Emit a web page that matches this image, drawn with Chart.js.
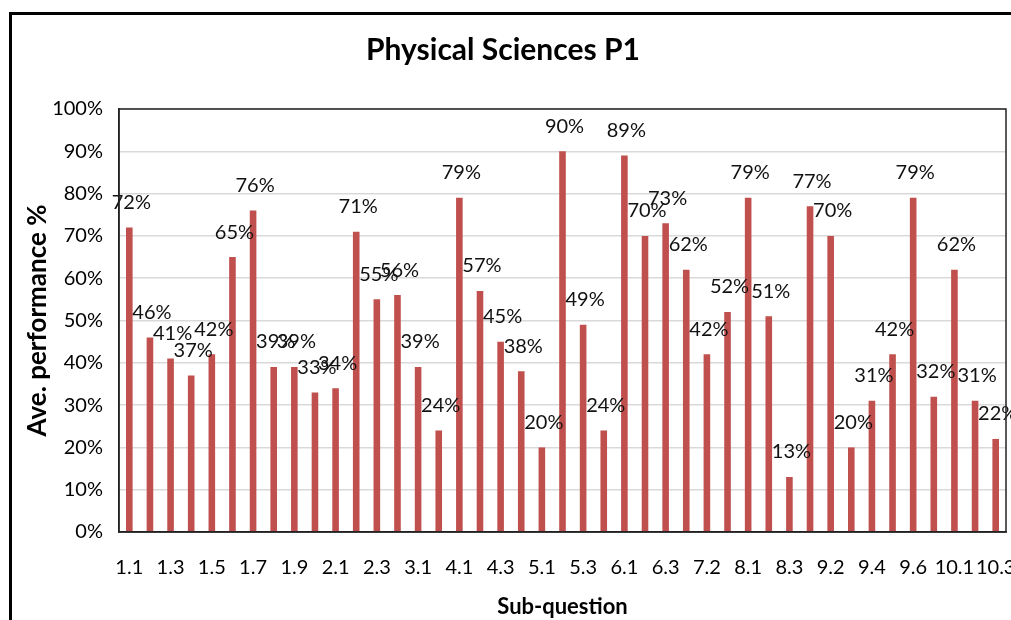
<!DOCTYPE html>
<html lang="en">
<head>
  <meta charset="UTF-8">
  <title>Physical Sciences P1</title>
  <style>
    body { margin: 0; background: #fff; overflow: hidden; }
    .frame { position: absolute; left: 9px; top: 12px; width: 1100px; height: 700px; border: 3px solid #000; }
    .wrap { position: absolute; left: 0; top: 0; width: 1011px; height: 620px; }
  </style>
</head>
<body>
  <div class="frame"></div>
  <div class="wrap"><canvas id="barChart"></canvas></div>

  <script src="https://cdn.jsdelivr.net/npm/chart.js"></script>
  <script>
    const subQuestions = [
      "1.1", "1.2", "1.3", "1.4", "1.5", "1.6", "1.7", "1.8", "1.9", "1.10",
      "2.1", "2.2", "2.3", "2.4", "3.1", "3.2", "4.1", "4.2", "4.3", "4.4",
      "5.1", "5.2", "5.3", "5.4", "6.1", "6.2", "6.3", "7.1", "7.2", "7.3",
      "8.1", "8.2", "8.3", "9.1", "9.2", "9.3", "9.4", "9.5", "9.6", "9.7",
      "10.1", "10.2", "10.3"
    ];
    const performance = [
      72, 46, 41, 37, 42, 65, 76, 39, 39, 33,
      34, 71, 55, 56, 39, 24, 79, 57, 45, 38,
      20, 90, 49, 24, 89, 70, 73, 62, 42, 52,
      79, 51, 13, 77, 70, 20, 31, 42, 79, 32,
      62, 31, 22
    ];
    const yTicks = [0, 10, 20, 30, 40, 50, 60, 70, 80, 90, 100];

    const face = "Lato, 'Liberation Sans', sans-serif";

    // value labels above each bar
    const valueLabels = {
      id: "valueLabels",
      afterDatasetsDraw(chart) {
        const ctx = chart.ctx;
        const bars = chart.getDatasetMeta(0).data;
        ctx.save();
        ctx.font = "20px " + face;
        ctx.fillStyle = "#111";
        ctx.textAlign = "center";
        ctx.textBaseline = "bottom";
        bars.forEach((bar, i) => {
          ctx.fillText(performance[i] + "%", bar.x + 2, bar.y - 15);
        });
        ctx.restore();
      }
    };

    // box round the plot area
    const plotBox = {
      id: "plotBox",
      afterDraw(chart) {
        const a = chart.chartArea;
        const ctx = chart.ctx;
        ctx.save();
        ctx.strokeStyle = "#222";
        ctx.lineWidth = 1.5;
        ctx.strokeRect(a.left, a.top, a.right - a.left, a.bottom - a.top);
        ctx.restore();
      }
    };

    new Chart(document.getElementById("barChart"), {
      type: "bar",
      data: {
        labels: subQuestions,
        datasets: [{
          label: "Ave. performance %",
          data: performance,
          backgroundColor: "#C0504D",
          barPercentage: 0.32,
          categoryPercentage: 1
        }]
      },
      options: {
        responsive: true,
        maintainAspectRatio: false,
        animation: false,
        layout: { padding: { left: 0, right: 5, top: 0, bottom: 0 } },
        plugins: {
          legend: { display: false },
          tooltip: { enabled: false },
          title: {
            display: true,
            text: "Physical Sciences P1",
            color: "#000",
            font: { family: face, size: 30, weight: "bold", lineHeight: 1.2 },
            padding: { top: 32, bottom: 41 }
          }
        },
        scales: {
          x: {
            grid: { display: false, drawTicks: false },
            border: { color: "#222", width: 1.5 },
            ticks: {
              autoSkip: false,
              maxRotation: 0,
              padding: 24,
              color: "#000",
              font: { family: face, size: 20 },
              callback: (v, i) => (i % 2 === 0 ? subQuestions[i] : "")
            },
            title: {
              display: true,
              text: "Sub-question",
              color: "#000",
              font: { family: face, size: 22, weight: "bold", lineHeight: 1 },
              padding: { top: 0, bottom: 2 }
            },
            afterFit(scale) {
              scale.height = 88;
              scale.paddingLeft = 0;
              scale.paddingRight = 0;
            }
          },
          y: {
            min: 0,
            max: 100,
            afterBuildTicks(scale) { scale.ticks = yTicks.map(v => ({ value: v })); },
            grid: { color: "#d9d9d9", lineWidth: 1.5, drawTicks: false },
            border: { color: "#222", width: 1.5 },
            ticks: {
              padding: 16,
              color: "#000",
              font: { family: face, size: 20 },
              callback: v => v + "%"
            },
            title: {
              display: true,
              text: "Ave. performance %",
              color: "#000",
              font: { family: face, size: 26, weight: "bold", lineHeight: 1 },
              padding: { top: 25, bottom: 0 }
            },
            afterFit(scale) { scale.width = 119; }
          }
        }
      },
      plugins: [valueLabels, plotBox]
    });
  </script>
</body>
</html>
